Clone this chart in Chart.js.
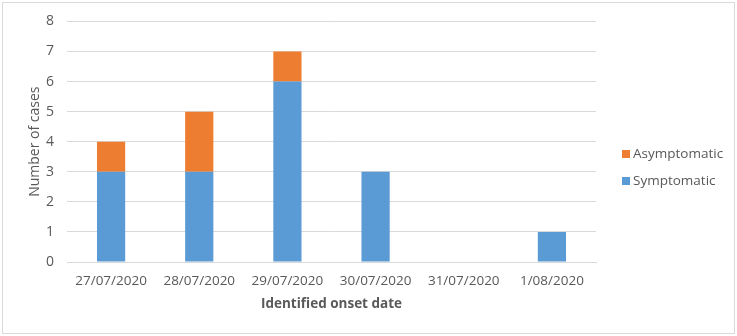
<!DOCTYPE html>
<html>
<head>
<meta charset="utf-8">
<script src="https://cdn.jsdelivr.net/npm/chart.js@4/dist/chart.umd.min.js"></script>
<style>
  html, body { margin: 0; padding: 0; background: #fff; }
  #wrap { width: 737px; height: 336px; position: relative; }
</style>
</head>
<body>
<div id="wrap"><canvas id="chart"></canvas></div>
<script>
const onsetDates = ['27/07/2020', '28/07/2020', '29/07/2020', '30/07/2020', '31/07/2020', '1/08/2020'];
const symptomatic = [3, 3, 6, 3, 0, 1];
const asymptomatic = [1, 2, 1, 0, 0, 0];

const fontFamily = '"Open Sans", "Noto Sans", sans-serif';
const textColor = '#595959';
const gridColor = '#d9d9d9';

// white background and light frame round the whole picture
const framePlugin = {
  id: 'frame',
  beforeDraw(chart) {
    const ctx = chart.ctx;
    ctx.save();
    ctx.fillStyle = '#fff';
    ctx.fillRect(0, 0, chart.width, chart.height);
    ctx.strokeStyle = '#d9d9d9';
    ctx.lineWidth = 1;
    ctx.strokeRect(2.5, 2.5, chart.width - 5, chart.height - 5);
    ctx.restore();
  }
};

// legend on the right, top series first, like the office chart
const sideLegend = {
  id: 'sideLegend',
  afterDraw(chart) {
    const ctx = chart.ctx;
    const sets = chart.data.datasets.slice().reverse();
    const x = chart.chartArea.right + 26;
    let y = 154;
    ctx.save();
    ctx.font = '13.5px ' + fontFamily;
    ctx.textBaseline = 'middle';
    sets.forEach(ds => {
      ctx.fillStyle = ds.backgroundColor;
      ctx.fillRect(x, y - 4, 8, 8);
      ctx.fillStyle = textColor;
      ctx.fillText(ds.label, x + 11, y);
      y += 27;
    });
    ctx.restore();
  }
};

new Chart(document.getElementById('chart'), {
  type: 'bar',
  data: {
    labels: onsetDates,
    datasets: [
      {
        label: 'Symptomatic',
        data: symptomatic,
        backgroundColor: '#5b9bd5',
        categoryPercentage: 1,
        barPercentage: 0.32
      },
      {
        label: 'Asymptomatic',
        data: asymptomatic,
        backgroundColor: '#ed7d31',
        categoryPercentage: 1,
        barPercentage: 0.32
      }
    ]
  },
  options: {
    responsive: true,
    maintainAspectRatio: false,
    animation: false,
    layout: { padding: { top: 4, bottom: 24, left: 27, right: 141 } },
    plugins: {
      legend: { display: false },
      tooltip: { enabled: false }
    },
    scales: {
      x: {
        stacked: true,
        afterFit(scale) { scale.height = 50; },
        grid: { display: false, drawTicks: false },
        border: { display: true, color: gridColor },
        ticks: {
          color: textColor,
          padding: 11,
          maxRotation: 0,
          font: { family: fontFamily, size: 13.5 }
        },
        title: {
          display: true,
          text: 'Identified onset date',
          color: textColor,
          padding: { top: 0, bottom: 0 },
          font: { family: fontFamily, size: 13.5, weight: 'bold' }
        }
      },
      y: {
        stacked: true,
        min: 0,
        max: 8,
        afterFit(scale) { scale.width = 40; },
        grid: { color: gridColor, drawTicks: false },
        border: { display: false },
        ticks: {
          stepSize: 1,
          color: textColor,
          padding: 13,
          font: { family: fontFamily, size: 14 }
        },
        title: {
          display: true,
          text: 'Number of cases',
          color: textColor,
          padding: { top: 0, bottom: 0 },
          font: { family: fontFamily, size: 14 }
        }
      }
    }
  },
  plugins: [framePlugin, sideLegend]
});
</script>
</body>
</html>
